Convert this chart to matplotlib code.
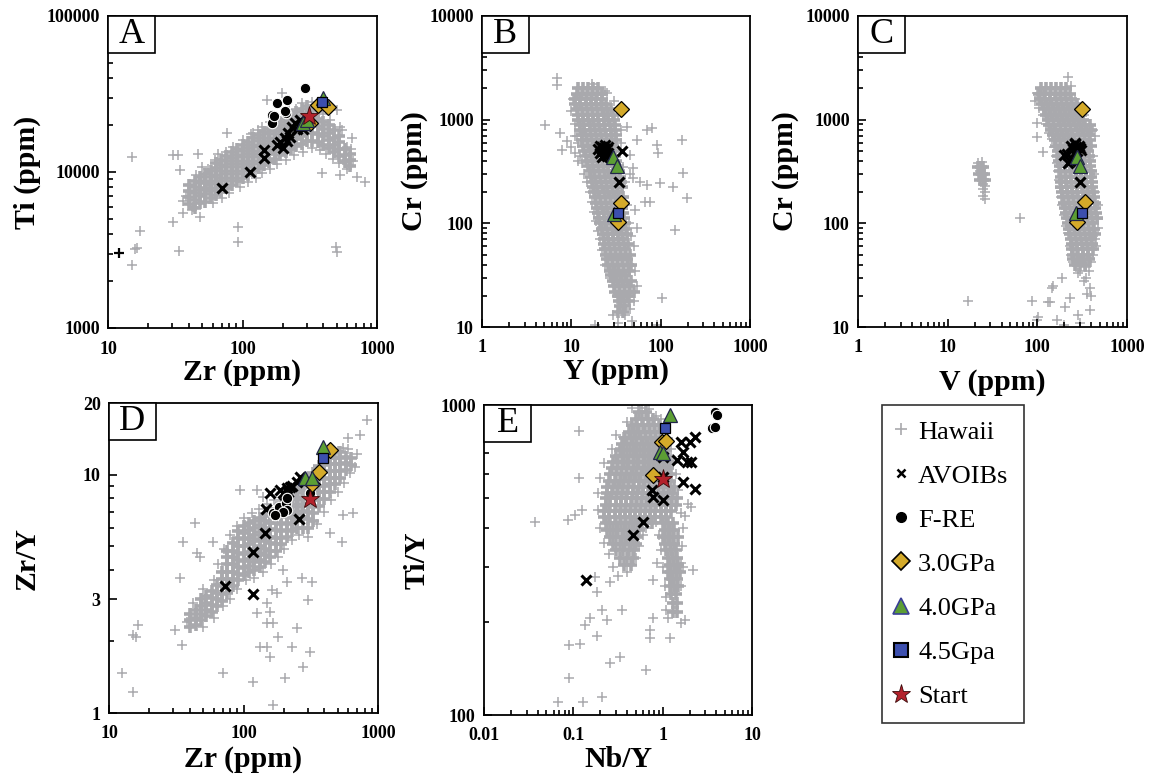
import numpy as np
import matplotlib.pyplot as plt
from matplotlib.lines import Line2D
from matplotlib.patches import Rectangle
from matplotlib.ticker import LogLocator, NullFormatter

plt.rcParams['font.family'] = ['Liberation Serif', 'DejaVu Serif']

# ---------------- Hawaii basalts ----------------
# A: Zr column -> Ti values
hawaii_a_cols = [
    (40, [6200, 6900, 7500, 8200]),
    (44, [5900, 6600, 7300, 8000, 8700]),
    (48, [6300, 7000, 7700, 8500, 9300]),
    (53, [6400, 7200, 7900, 8800, 9700]),
    (58, [6800, 7500, 8400, 9300, 10200]),
    (63, [7100, 7900, 8800, 9600, 10600, 11400]),
    (69, [7400, 8300, 9200, 10100, 11100, 12000]),
    (76, [7900, 8800, 9700, 10700, 11700, 12700]),
    (83, [8200, 9200, 10200, 11200, 12300, 13400]),
    (91, [8700, 9700, 10700, 11800, 12900, 14000]),
    (100, [9100, 10200, 11300, 12400, 13600, 14800]),
    (110, [9600, 10700, 11800, 13000, 14300, 15600]),
    (120, [10100, 11200, 12400, 13700, 15000, 16400]),
    (132, [10600, 11800, 13100, 14400, 15800, 17200]),
    (145, [11100, 12400, 13700, 15100, 16600, 18100]),
    (158, [11600, 13000, 14400, 15900, 17400, 19000]),
    (174, [12200, 13600, 15100, 16600, 18200, 19900]),
    (190, [12800, 14200, 15800, 17400, 19100, 20900]),
    (209, [13400, 14900, 16500, 18200, 20000, 22000]),
    (229, [14000, 15600, 17300, 19100, 21000, 23100]),
    (251, [14600, 16300, 18100, 20000, 22000, 24100]),
    (275, [15200, 17000, 18900, 20900, 23000, 25300]),
    (302, [15800, 17700, 19700, 21800, 24000, 26500]),
    (331, [15900, 17900, 20000, 22400, 25000]),
    (363, [15500, 17500, 19600, 22000, 24500]),
    (398, [15000, 16900, 18900, 21000]),
    (436, [14300, 16000, 17900, 19900]),
    (478, [13500, 15000, 16600, 18500]),
    (524, [12600, 14000, 15500, 17100]),
    (575, [11600, 12800, 14100]),
    (630, [11000, 12000, 13100]),
]
hawaii_a_extra = [
    (15.1, 12500), (15.1, 2530), (16.4, 3260), (15.8, 3200), (17.3, 4180),
    (33, 12900), (30.4, 12900), (34.4, 10300), (46.7, 13000), (65.6, 13000),
    (30.4, 4780), (36.2, 5450), (33.7, 3120), (92, 4440), (92, 3550),
    (496, 3300), (503, 3070), (390, 9850), (715, 9300), (810, 8600),
    (530, 9540), (650, 16500), (530, 19400), (197, 32000), (152, 29000),
    (42.9, 5960), (48.3, 5150), (42, 5700), (76.6, 17700), (55, 8250),
    (130, 18600), (500, 25000), (250, 25500), (275, 27500), (330, 28000),
    (360, 27000), (600, 14500), (560, 12000),
    (38, 7000), (36, 6500), (45, 9500), (55, 10500), (62, 12000), (75, 13500),
    (85, 14500), (100, 16000), (115, 17500), (60, 6300), (70, 6800), (80, 7300),
    (95, 8000), (110, 8600), (125, 9200), (140, 9900), (160, 10500), (180, 11200),
    (210, 12000), (240, 12800), (280, 13500), (330, 14200), (380, 13800),
    (420, 13000), (470, 12200), (520, 11500), (600, 10500), (660, 11800),
    (640, 14000), (550, 18500), (450, 21500), (400, 23500), (220, 25000),
    (180, 21500), (140, 19500), (160, 21000), (120, 17800), (50, 10800),
]
odd_zr = [12]
odd_ti = [3030]

# B: Cr row -> Y values
hawaii_b_rows = [
    (2000, [12, 13.5, 15.5, 17.5, 20]),
    (1780, [11.5, 13, 15, 17, 19.5, 22]),
    (1580, [11, 12.5, 14.5, 16.5, 19, 22]),
    (1410, [11, 12.5, 14.5, 16.5, 19, 21.5, 24.5]),
    (1260, [11.5, 13, 15, 17, 19.5, 22, 25, 28]),
    (1120, [12, 13.5, 15.5, 17.5, 20, 23, 26, 29]),
    (1000, [12, 13.5, 15.5, 17.5, 20, 23, 26, 30]),
    (890, [12.5, 14, 16, 18, 20.5, 23.5, 27, 31]),
    (790, [12.5, 14, 16, 18.5, 21, 24, 27.5, 31]),
    (710, [13, 14.5, 16.5, 19, 21.5, 24.5, 28, 32]),
    (630, [13, 15, 17, 19.5, 22, 25, 28.5, 32]),
    (560, [13.5, 15.5, 17.5, 20, 23, 26, 29.5]),
    (500, [14, 16, 18, 20.5, 23.5, 27, 31]),
    (450, [14.5, 16.5, 18.5, 21, 24, 27.5, 31]),
    (400, [15, 17, 19.5, 22, 25, 28.5, 32]),
    (355, [15.5, 17.5, 20, 22.5, 25.5, 29, 33]),
    (320, [16, 18, 20.5, 23, 26, 29.5, 34]),
    (280, [16.5, 18.5, 21, 24, 27, 30.5, 35]),
    (250, [17, 19, 21.5, 24.5, 28, 31.5, 36]),
    (225, [17.5, 19.5, 22, 25, 28.5, 32.5, 37]),
    (200, [18, 20, 23, 26, 29.5, 33.5]),
    (178, [18.5, 21, 24, 27, 30.5, 34.5, 38]),
    (158, [19, 21.5, 24.5, 28, 31.5, 35.5]),
    (141, [19.5, 22, 25, 28.5, 32, 36.5]),
    (126, [20, 23, 26, 29.5, 33, 37.5]),
    (112, [20.5, 23.5, 27, 30.5, 34, 38.5]),
    (100, [21, 24, 27.5, 31, 35, 39.5]),
    (89, [22, 25, 28.5, 32, 36, 40.5]),
    (79, [22.5, 25.5, 29, 33, 37, 41.5]),
    (71, [23, 26, 29.5, 33.5, 38]),
    (63, [23.5, 26.5, 30, 34, 38.5, 43]),
    (56, [24, 27, 31, 35, 39.5]),
    (50, [24.5, 28, 31.5, 36, 40.5, 45]),
    (45, [25, 28.5, 32.5, 37, 42]),
    (40, [26, 29.5, 33.5, 38, 43, 47]),
    (35, [27, 30.5, 34.5, 39, 44]),
    (32, [28, 31.5, 35.5, 40]),
    (28, [29, 32.5, 37, 42, 47]),
    (25, [30, 34, 38.5, 44]),
    (22, [31, 35, 40, 45, 50]),
    (20, [33, 37, 42]),
    (18, [34, 38.5, 44]),
    (16, [35, 40]),
    (14, [33, 38]),
]
hawaii_b_extra = [
    (6.9, 2520), (6.9, 2160), (5.1, 884), (7.5, 746), (7.9, 509),
    (174, 636), (178, 305), (197, 175), (145, 86), (138, 224), (98, 245),
    (70, 234), (70, 793), (80, 830), (91, 570), (94, 475), (54, 636),
    (49, 275), (67, 160), (76, 160), (52, 134), (54, 90), (103, 19),
    (49, 340), (45, 455), (42, 850), (25, 1800), (18.5, 10.5), (33, 11),
    (92, 10.5), (29, 13), (48, 11.5), (10, 550), (9, 620), (11, 700),
    (17, 2200), (45, 300), (58, 250), (40, 160), (12, 400), (11, 480),
    (10.5, 1600), (10, 1200), (11, 900), (11.5, 700), (12, 600), (12.5, 450),
    (13, 380), (14, 300), (15, 250), (16, 200), (17, 160), (18, 130),
    (19, 105), (20, 85), (21, 70), (22, 55), (24, 40), (27, 30), (30, 25),
    (24, 1900), (30, 1500), (33, 1100), (36, 800), (36, 600), (38, 350),
    (40, 250), (42, 150), (44, 100), (46, 75), (50, 60), (52, 35), (55, 25),
    (50, 18), (45, 15), (40, 13), (36, 17),
]

# C: Cr row -> V values
hawaii_c_rows = [
    (2000, [110, 125, 143, 163, 186, 210]),
    (1780, [105, 120, 137, 156, 178, 203, 230]),
    (1580, [108, 123, 140, 160, 182, 208, 237]),
    (1410, [112, 128, 146, 166, 190, 216, 246, 280]),
    (1260, [118, 134, 153, 174, 199, 226, 258, 294]),
    (1120, [124, 141, 161, 184, 209, 238, 272, 310]),
    (1000, [130, 148, 169, 192, 219, 250, 285, 325]),
    (890, [136, 155, 177, 202, 230, 262, 298, 340, 385]),
    (790, [142, 162, 185, 211, 240, 274, 312, 355, 400]),
    (710, [150, 171, 195, 222, 253, 288, 328, 374]),
    (630, [156, 178, 203, 231, 263, 300, 342, 390]),
    (560, [162, 185, 211, 240, 274, 312, 356, 400]),
    (500, [168, 191, 218, 248, 283, 322, 367]),
    (450, [172, 196, 223, 254, 290, 330, 376]),
    (400, [175, 199, 227, 259, 295, 336, 383]),
    (355, [178, 203, 231, 263, 300, 342, 390]),
    (320, [180, 205, 234, 267, 304, 347, 395]),
    (280, [182, 207, 236, 269, 307, 350, 399]),
    (250, [184, 210, 239, 272, 310, 353, 402]),
    (225, [186, 212, 242, 276, 314, 358, 408]),
    (200, [190, 216, 246, 280, 319, 364, 415]),
    (178, [194, 221, 252, 287, 327, 373, 425]),
    (158, [198, 226, 258, 294, 335, 382, 435]),
    (141, [203, 231, 263, 300, 342, 390, 445]),
    (126, [208, 237, 270, 308, 351, 400, 455]),
    (112, [213, 243, 277, 316, 360, 410, 460]),
    (100, [218, 249, 284, 324, 369, 420]),
    (89, [224, 255, 291, 332, 378, 430]),
    (79, [230, 262, 299, 341, 389, 440]),
    (71, [236, 269, 307, 350, 399]),
    (63, [242, 276, 315, 359, 409]),
    (56, [245, 280, 319, 364, 415]),
    (50, [248, 283, 323, 368]),
    (45, [252, 287, 327, 373]),
    (40, [260, 296, 337]),
    (350, [22, 23.5, 25]),
    (300, [22.5, 24, 25.5]),
    (260, [23, 24.5, 26]),
]
hawaii_c_extra = [
    (218, 2560), (98.6, 930), (98.6, 680), (115, 490), (64, 112),
    (16.8, 18), (87, 18), (138, 17.4), (149, 25), (188, 30), (101, 12.5),
    (283, 33), (145, 24), (385, 24), (356, 21), (130, 17.4), (230, 19),
    (203, 15.6), (283, 13), (98, 11.7), (385, 14.6), (165, 11.7),
    (200, 10.5), (300, 11), (420, 75), (450, 60), (400, 20), (330, 28),
    (310, 45), (350, 38),
    (22, 380), (24, 390), (23, 320), (26, 300), (25, 240), (26, 230),
    (25, 215), (26, 200), (25, 185), (26, 170),
    (100, 1800), (95, 1500), (105, 1300), (115, 1100), (125, 900), (135, 750),
    (145, 650), (155, 550), (160, 450), (165, 380), (170, 320), (175, 260),
    (178, 220), (185, 180), (190, 150), (200, 120), (210, 95), (220, 80),
    (230, 60), (240, 50), (250, 42), (240, 2100), (260, 1600), (330, 1100),
    (420, 800), (440, 700), (420, 450), (430, 300), (440, 200), (470, 150),
    (480, 110), (470, 90), (440, 70), (420, 50), (400, 42), (380, 35),
    (350, 30), (300, 35), (280, 40),
]

# D: Zr column -> Zr/Y values
hawaii_d_cols = [
    (40, [2.3, 2.45, 2.6]),
    (44, [2.35, 2.5, 2.7]),
    (48, [2.45, 2.6, 2.8, 3.0]),
    (53, [2.55, 2.7, 2.9, 3.1]),
    (58, [2.65, 2.85, 3.05, 3.25]),
    (63, [2.8, 3.0, 3.2, 3.45]),
    (69, [2.95, 3.15, 3.4, 3.65, 3.9]),
    (76, [3.2, 3.4, 3.65, 3.9, 4.2, 4.5, 4.8]),
    (83, [3.4, 3.65, 3.9, 4.2, 4.5, 4.8, 5.15]),
    (91, [3.6, 3.85, 4.1, 4.4, 4.7, 5.0, 5.4, 5.8]),
    (100, [3.8, 4.05, 4.35, 4.65, 5.0, 5.35, 5.7, 6.1]),
    (110, [3.9, 4.15, 4.45, 4.75, 5.1, 5.45, 5.85, 6.25]),
    (120, [4.0, 4.3, 4.6, 4.9, 5.25, 5.6, 6.0, 6.4]),
    (132, [4.1, 4.4, 4.7, 5.0, 5.35, 5.75, 6.15, 6.6]),
    (145, [4.3, 4.6, 4.9, 5.25, 5.6, 6.0, 6.4, 6.85]),
    (158, [4.5, 4.8, 5.15, 5.5, 5.9, 6.3, 6.7, 7.1]),
    (174, [4.8, 5.1, 5.45, 5.85, 6.25, 6.7, 7.15]),
    (190, [5.1, 5.45, 5.8, 6.2, 6.65, 7.1, 7.6]),
    (209, [5.5, 5.85, 6.25, 6.7, 7.15, 7.65, 8.1]),
    (229, [5.8, 6.2, 6.6, 7.05, 7.55, 8.05, 8.5]),
    (251, [6.0, 6.4, 6.85, 7.3, 7.8, 8.35, 8.9]),
    (275, [6.0, 6.6, 7.05, 7.55, 8.05, 8.6, 9.2]),
    (302, [6.0, 6.5, 6.95, 7.4, 7.9, 8.45, 9.0, 9.6]),
    (331, [6.4, 6.9, 7.35, 7.85, 8.4, 8.95, 9.6, 10.2]),
    (363, [7.4, 7.9, 8.45, 9.0, 9.6, 10.3, 10.9]),
    (398, [7.9, 8.45, 9.0, 9.6, 10.3, 11.0]),
    (436, [8.5, 9.1, 9.7, 10.4, 11.1, 11.7]),
    (478, [9.1, 9.7, 10.4, 11.1, 11.8]),
    (524, [9.7, 10.4, 11.1, 11.8, 12.4]),
    (575, [10.5, 11.2, 11.9]),
    (630, [11.0, 11.7]),
]
hawaii_d_extra = [
    (828, 17.0), (735, 14.7), (600, 14.2), (650, 6.9), (550, 6.8),
    (540, 5.2), (440, 5.7), (325, 3.55), (302, 2.98), (312, 1.8),
    (277, 1.56), (250, 2.27), (229, 1.89), (204, 1.4), (166, 1.08),
    (118, 1.35), (70, 1.47), (15, 1.22), (12.5, 1.47), (15, 2.13),
    (16.4, 2.34), (16, 2.08), (31, 2.23), (35, 1.93), (33.6, 3.7),
    (35.5, 5.2), (43.6, 6.3), (45, 4.7), (47.6, 4.5), (59, 5.2),
    (94, 8.6), (126, 8.6), (140, 8.1), (126, 2.63), (150, 2.9),
    (157, 2.65), (150, 2.39), (180, 2.08), (150, 1.89), (157, 1.72),
    (133, 1.89), (166, 2.39), (197, 4.0), (210, 3.55), (271, 3.7),
    (178, 3.2), (163, 3.28),
    (38, 2.4), (42, 2.9), (50, 3.3), (60, 3.6), (65, 4.2), (72, 4.9),
    (80, 5.6), (90, 6.1), (100, 6.6), (115, 6.9), (130, 7.2), (150, 7.5),
    (170, 7.8), (50, 2.3), (60, 2.5), (70, 2.8), (80, 3.0), (90, 3.3),
    (105, 3.6), (120, 3.7), (140, 3.9), (160, 4.2), (180, 4.5), (200, 4.9),
    (230, 5.3), (260, 5.6), (300, 5.5), (350, 6.2), (400, 7.0), (450, 7.8),
    (500, 8.5), (560, 9.2), (620, 10.2), (680, 10.8), (700, 12.2),
    (600, 12.8), (550, 13.0), (500, 12.6),
]

# E: Ti/Y row -> Nb/Y values
hawaii_e_rows = [
    (950, [0.55, 0.65]),
    (900, [0.5, 0.58, 0.68, 0.78]),
    (860, [0.45, 0.52, 0.6, 0.7, 0.8, 0.9]),
    (820, [0.42, 0.48, 0.55, 0.63, 0.72, 0.82, 0.93]),
    (785, [0.38, 0.44, 0.5, 0.57, 0.65, 0.74, 0.85, 0.97]),
    (750, [0.35, 0.4, 0.46, 0.52, 0.6, 0.68, 0.78, 0.89, 1.0]),
    (715, [0.33, 0.37, 0.43, 0.49, 0.56, 0.64, 0.73, 0.83, 0.95, 1.08]),
    (685, [0.3, 0.35, 0.4, 0.46, 0.52, 0.6, 0.68, 0.78, 0.89, 1.0, 1.15]),
    (655, [0.28, 0.32, 0.37, 0.42, 0.48, 0.55, 0.63, 0.72, 0.82, 0.94, 1.07, 1.2]),
    (625, [0.27, 0.31, 0.35, 0.4, 0.46, 0.52, 0.6, 0.68, 0.78, 0.89, 1.0, 1.15]),
    (600, [0.26, 0.3, 0.34, 0.39, 0.44, 0.5, 0.57, 0.65, 0.74, 0.85, 0.97, 1.1, 1.25]),
    (570, [0.25, 0.29, 0.33, 0.37, 0.42, 0.48, 0.55, 0.63, 0.72, 0.82, 0.93, 1.06, 1.2]),
    (545, [0.24, 0.28, 0.32, 0.36, 0.41, 0.47, 0.54, 0.61, 0.7, 0.8, 0.91, 1.04, 1.2, 1.35]),
    (520, [0.24, 0.27, 0.31, 0.35, 0.4, 0.46, 0.52, 0.6, 0.68, 0.78, 0.89, 1.0, 1.15, 1.3]),
    (500, [0.23, 0.26, 0.3, 0.34, 0.39, 0.45, 0.51, 0.58, 0.66, 0.76, 0.87, 1.0, 1.12, 1.28, 1.45]),
    (475, [0.23, 0.26, 0.3, 0.34, 0.39, 0.44, 0.5, 0.57, 0.65, 0.74, 0.85, 0.97, 1.1, 1.25, 1.4]),
    (455, [0.22, 0.25, 0.29, 0.33, 0.38, 0.43, 0.49, 0.56, 0.64, 0.73, 0.83, 0.95, 1.08, 1.23]),
    (435, [0.22, 0.25, 0.29, 0.33, 0.38, 0.43, 0.49, 0.56, 0.64, 0.73, 0.83, 0.95, 1.1]),
    (415, [0.23, 0.26, 0.3, 0.34, 0.39, 0.45, 0.51, 0.58, 0.66, 0.75, 1.0, 1.15, 1.3]),
    (395, [0.24, 0.28, 0.32, 0.37, 0.42, 0.48, 0.55, 1.05, 1.2, 1.35]),
    (375, [0.26, 0.3, 0.35, 0.4, 0.46, 0.52, 1.0, 1.15, 1.3, 1.5]),
    (355, [0.28, 0.33, 0.38, 0.44, 0.5, 1.05, 1.2, 1.35]),
    (340, [0.3, 0.36, 0.42, 0.48, 1.1, 1.25, 1.4]),
    (320, [0.33, 0.4, 0.47, 1.15, 1.3, 1.45]),
    (305, [0.37, 0.44, 1.2, 1.35, 1.5]),
    (290, [1.15, 1.25, 1.4, 1.55]),
    (275, [1.2, 1.3, 1.45]),
    (260, [1.22, 1.35, 1.5]),
    (245, [1.25, 1.4]),
    (230, [1.3, 1.45]),
    (215, [1.3, 1.45]),
]
hawaii_e_extra = [
    (0.037, 420), (0.116, 823), (0.116, 581), (0.087, 425), (0.104, 442),
    (0.125, 458), (0.068, 110), (0.128, 110), (0.21, 114), (0.089, 132),
    (0.26, 147), (0.33, 154), (0.65, 140), (0.09, 168), (0.12, 170),
    (0.135, 195), (0.185, 180), (0.153, 205), (0.21, 218), (0.35, 218),
    (0.24, 202), (0.175, 279), (0.26, 268), (0.185, 249), (0.78, 205),
    (0.72, 188), (0.72, 177), (1.21, 177), (1.1, 218), (1.6, 198),
    (1.79, 202), (2.2, 293), (0.78, 272), (0.87, 309), (1.6, 309),
    (2.1, 469), (1.9, 480), (1.8, 440), (0.59, 978), (0.33, 726),
    (0.36, 787),
    (0.45, 980), (0.7, 970), (0.85, 920), (0.4, 880), (0.3, 800), (0.27, 720),
    (0.22, 650), (0.2, 580), (0.19, 520), (0.19, 460), (0.2, 400), (0.22, 360),
    (0.25, 330), (0.28, 300), (0.32, 280), (0.4, 290), (0.5, 320), (0.55, 350),
    (0.6, 380), (0.65, 400), (0.85, 420), (0.9, 380), (0.95, 340), (1.0, 300),
    (1.05, 260), (1.1, 240), (1.15, 205), (1.6, 260), (1.7, 300), (1.65, 350),
    (1.7, 400), (1.6, 450), (1.5, 530), (1.4, 600), (1.3, 650), (1.25, 720),
    (1.15, 780), (1.05, 850), (0.95, 900),
]

# ---------------- AVOIBs ----------------
avoib_a = [(70.4, 7890), (113.6, 10000), (144, 13800), (144, 12300), (180, 14900),
           (200, 14300), (206, 16500), (218, 17800), (233, 19400), (246, 20600),
           (267, 21600), (190, 15500), (215, 15800), (225, 16800), (255, 19000),
           (280, 19000)]
avoib_b = [(20, 520), (21, 480), (22, 550), (22, 500), (23, 460), (23, 530), (24, 570),
           (24, 490), (25, 520), (25, 450), (26, 540), (21, 560), (22, 440), (26, 480),
           (37, 500), (34, 250)]
avoib_c = [(215, 470), (200, 455), (220, 380), (230, 400), (240, 560), (250, 520),
           (260, 580), (270, 540), (280, 500), (290, 560), (300, 530), (310, 510),
           (255, 480), (265, 600), (300, 250)]
avoib_d = [(73, 3.42), (118, 3.16), (118, 4.75), (144, 5.7), (258, 6.5), (147, 7.2),
           (157, 8.4), (187, 8.6), (210, 8.8), (222, 8.9), (250, 9.3), (263, 9.8),
           (197, 8.4), (205, 8.2), (215, 8.5), (230, 9.0)]
avoib_e = [(0.139, 273), (0.466, 380), (0.60, 419), (1.01, 494), (0.76, 532),
           (0.78, 505), (1.01, 585), (1.7, 565), (2.3, 535), (1.6, 760), (1.7, 705),
           (1.45, 664), (1.87, 653), (2.1, 653), (2.0, 760), (2.3, 787), (1.01, 679)]

# ---------------- F-RE ----------------
fre_a = [(291.5, 34500), (180, 27700), (214, 29000), (166, 23200), (211, 23900),
         (166, 20600), (172, 23000), (208, 24500)]
fre_d = [(166, 6.9), (183, 7.3), (207, 7.6), (210, 7.1), (195, 7.0), (210, 8.0),
         (312, 8.4), (172, 6.8)]
fre_e = [(3.87, 948), (4.1, 925), (3.6, 846), (3.87, 850)]

# ---------------- melting experiments ----------------
gpa30 = {'A': [(364, 26900), (432, 26100), (320, 20500)],
         'B': [(36, 1260), (36, 157), (33, 103)],
         'C': [(315, 1260), (340, 160), (277, 103)],
         'D': [(440, 12.7), (363, 10.3), (325, 9.1)],
         'E': [(0.98, 760), (1.1, 765), (0.78, 595)]}
gpa40 = {'A': [(282, 20600), (300, 21600), (395, 30000)],
         'B': [(29, 435), (32.5, 357), (30, 123)],
         'C': [(277, 435), (297, 357), (270, 126)],
         'D': [(390, 13.1), (285, 9.7), (325, 9.7)],
         'E': [(1.21, 925), (0.93, 705), (1.01, 700)]}
gpa45 = {'A': [(388, 28000)], 'B': [(33, 126)], 'C': [(315, 126)],
         'D': [(390, 11.8)], 'E': [(1.06, 846)]}
start = {'A': [(311, 22800)], 'D': [(312, 7.9)], 'E': [(1.01, 576)]}

GRAY = '#a9a9ad'
GOLD = '#d4aa2a'
GREEN = '#5c9e34'
BLUE = '#3c4fae'
RED = '#b3222c'


def from_cols(cols):
    xs, ys = [], []
    for x, col in cols:
        xs += [x] * len(col)
        ys += col
    return xs, ys


def from_rows(rows):
    xs, ys = [], []
    for y, row in rows:
        xs += row
        ys += [y] * len(row)
    return xs, ys


def pts(ax, data, **kw):
    if not data:
        return
    x, y = zip(*data)
    ax.plot(x, y, ls='none', **kw)


fig = plt.figure(figsize=(11.49, 7.84), dpi=100)
W, H = 1149, 784


def make_ax(l, t, r, b):
    return fig.add_axes([l / W, 1 - b / H, (r - l) / W, (b - t) / H])


axA = make_ax(108, 16, 377, 328)
axB = make_ax(482, 16, 750, 327)
axC = make_ax(858, 16, 1127, 327)
axD = make_ax(109, 403, 378, 713)
axE = make_ax(484, 405, 752, 715)

# dense part of the Hawaii field: heavy crosses that merge; sparse samples: thin crosses
core_kw = dict(marker='+', color=GRAY, ms=8.5, mew=2.6, zorder=1)
hw_kw = dict(marker='+', color=GRAY, ms=7, mew=1.1, zorder=1)
ax_kw = dict(marker='x', color='black', ms=7.5, mew=2.2, zorder=3)
fre_kw = dict(marker='o', mfc='black', mec='white', ms=7.5, mew=0.8, zorder=4)
d_kw = dict(marker='D', mfc=GOLD, mec='black', ms=8.5, mew=0.9, zorder=5)
t_kw = dict(marker='^', mfc=GREEN, mec='#22264a', ms=10.5, mew=0.9, zorder=6)
s_kw = dict(marker='s', mfc=BLUE, mec='black', ms=7, mew=0.9, zorder=7)
st_kw = dict(marker='*', mfc=RED, mec='#3a0a0a', ms=14, mew=0.6, zorder=8)

cores = {
    'A': from_cols(hawaii_a_cols),
    'B': from_rows(hawaii_b_rows),
    'C': from_rows(hawaii_c_rows),
    'D': from_cols(hawaii_d_cols),
    'E': from_rows(hawaii_e_rows),
}
extras = {'A': hawaii_a_extra, 'B': hawaii_b_extra, 'C': hawaii_c_extra,
          'D': hawaii_d_extra, 'E': hawaii_e_extra}
avoibs = {'A': avoib_a, 'B': avoib_b, 'C': avoib_c, 'D': avoib_d, 'E': avoib_e}
fres = {'A': fre_a, 'D': fre_d, 'E': fre_e}

panels = [
    ('A', axA, (10, 1000), (1000, 100000), [10, 100, 1000], ['10', '100', '1000'],
     [1000, 10000, 100000], ['1000', '10000', '100000'], 'Zr (ppm)', 'Ti (ppm)',
     -0.25, -0.1),
    ('B', axB, (1, 1000), (10, 10000), [1, 10, 100, 1000], ['1', '10', '100', '1000'],
     [10, 100, 1000, 10000], ['10', '100', '1000', '10000'], 'Y (ppm)', 'Cr (ppm)',
     -0.2, -0.1),
    ('C', axC, (1, 1000), (10, 10000), [1, 10, 100, 1000], ['1', '10', '100', '1000'],
     [10, 100, 1000, 10000], ['10', '100', '1000', '10000'], 'V (ppm)', 'Cr (ppm)',
     -0.22, -0.135),
    ('D', axD, (10, 1000), (1, 20), [10, 100, 1000], ['10', '100', '1000'],
     [1, 3, 10, 20], ['1', '3', '10', '20'], 'Zr (ppm)', 'Zr/Y',
     -0.253, -0.107),
    ('E', axE, (0.01, 10), (100, 1000), [0.01, 0.1, 1, 10], ['0.01', '0.1', '1', '10'],
     [100, 1000], ['100', '1000'], 'Nb/Y', 'Ti/Y',
     -0.198, -0.1),
]

for key, ax, xlim, ylim, xt, xtl, yt, ytl, xlab, ylab, ylx, xly in panels:
    xs, ys = cores[key]
    ax.plot(xs, ys, ls='none', **core_kw)
    pts(ax, extras[key], **hw_kw)
    if key == 'A':
        ax.plot(odd_zr, odd_ti, ls='none', marker='+', color='black', ms=7, mew=1.6, zorder=2)
    pts(ax, avoibs[key], **ax_kw)
    pts(ax, fres.get(key, []), **fre_kw)
    pts(ax, gpa30[key], **d_kw)
    pts(ax, gpa40[key], **t_kw)
    pts(ax, gpa45[key], **s_kw)
    pts(ax, start.get(key, []), **st_kw)

    ax.set_xscale('log')
    ax.set_yscale('log')
    ax.set_xlim(xlim)
    ax.set_ylim(ylim)
    ax.set_xticks(xt, labels=xtl)
    ax.set_yticks(yt, labels=ytl)
    ax.xaxis.set_minor_locator(LogLocator(base=10, subs=np.arange(2, 10), numticks=20))
    ax.yaxis.set_minor_locator(LogLocator(base=10, subs=np.arange(2, 10), numticks=20))
    ax.xaxis.set_minor_formatter(NullFormatter())
    ax.yaxis.set_minor_formatter(NullFormatter())
    ax.tick_params(which='both', direction='in', top=False, right=False, width=1.2)
    ax.tick_params(which='major', length=6)
    ax.tick_params(which='minor', length=3.5)
    ax.tick_params(axis='x', pad=9)
    ax.tick_params(axis='y', pad=6)
    for lab in ax.get_xticklabels() + ax.get_yticklabels():
        lab.set_fontweight('bold')
        lab.set_fontsize(13)
    for sp in ax.spines.values():
        sp.set_linewidth(1.3)

    ax.set_xlabel(xlab, fontsize=21.5, fontweight='bold')
    ax.set_ylabel(ylab, fontsize=21.5, fontweight='bold')
    ax.xaxis.set_label_coords(0.5, xly)
    ax.yaxis.set_label_coords(ylx, 0.5)

    # panel letter in a boxed corner
    bw, bh = 47 / (ax.get_position().width * W), 37 / (ax.get_position().height * H)
    ax.add_patch(Rectangle((0, 1 - bh), bw, bh, transform=ax.transAxes,
                           fc='white', ec='black', lw=1.2, zorder=10, clip_on=False))
    ax.text(bw / 2, 1 - bh / 2, key, transform=ax.transAxes, ha='center', va='center',
            fontsize=26, zorder=11)

handles = [
    Line2D([], [], ls='none', marker='+', color=GRAY, ms=8, mew=1.2),
    Line2D([], [], ls='none', marker='x', color='black', ms=5.5, mew=1.8),
    Line2D([], [], ls='none', marker='o', mfc='black', mec='black', ms=7),
    Line2D([], [], ls='none', marker='D', mfc=GOLD, mec='black', ms=9, mew=1.2),
    Line2D([], [], ls='none', marker='^', mfc=GREEN, mec='#3a3f96', ms=12, mew=1.2),
    Line2D([], [], ls='none', marker='s', mfc=BLUE, mec='black', ms=10, mew=1.5),
    Line2D([], [], ls='none', marker='*', mfc=RED, mec='#3a0a0a', ms=14, mew=0.6),
]
labels = ['Hawaii', 'AVOIBs', 'F-RE', '3.0GPa', '4.0GPa', '4.5Gpa', 'Start']
leg = fig.legend(handles, labels, loc='upper left', bbox_to_anchor=(882 / W, 1 - 405 / H),
                 frameon=True, fancybox=False, edgecolor='black', fontsize=19,
                 labelspacing=0.78, handlelength=0.3, handletextpad=0.5,
                 borderpad=0.57, borderaxespad=0)
leg.get_frame().set_linewidth(1.2)

fig.savefig('out.png', dpi=100)
